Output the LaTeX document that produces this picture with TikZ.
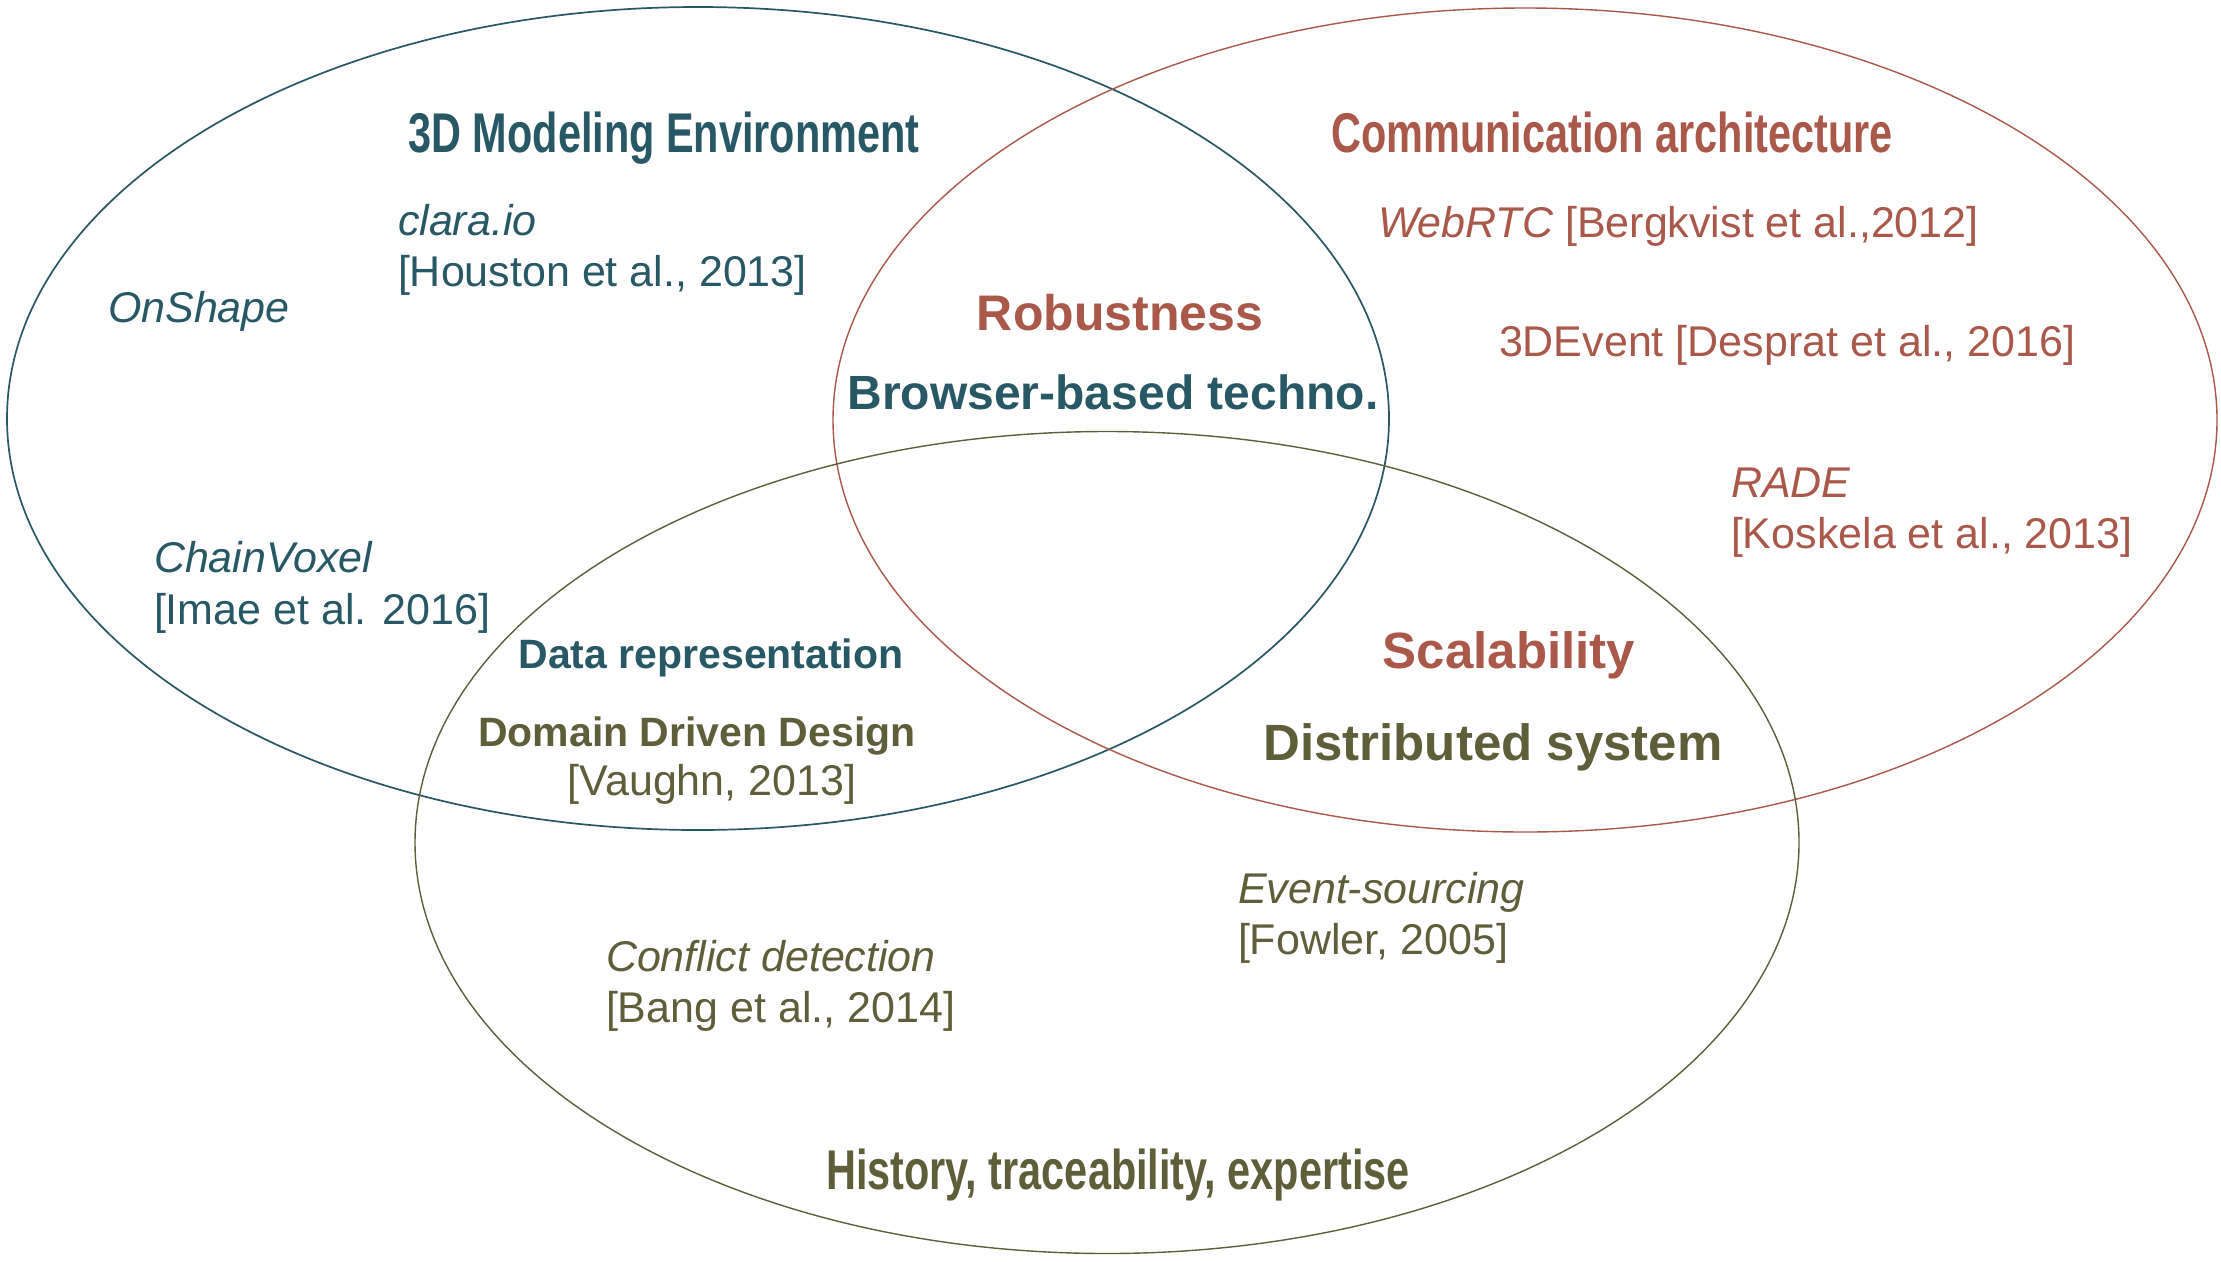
\documentclass[tikz,border=0pt]{standalone}
\usepackage{fontspec}
\usepackage{graphicx}
\setmainfont{Liberation Sans}
\definecolor{cblue}{RGB}{40,87,102}
\definecolor{cred}{RGB}{169,88,74}
\definecolor{colive}{RGB}{94,94,58}
% condensed bold heading
\newcommand{\condhead}[1]{\scalebox{0.74}[1]{\fontsize{56}{60}\selectfont\bfseries #1}}
\begin{document}
\begin{tikzpicture}[x=1pt,y=-1pt,
  every node/.style={inner sep=0pt,outer sep=0pt},
  reg/.style={font=\fontsize{43}{50}\selectfont,anchor=base west},
  regc/.style={font=\fontsize{43}{50}\selectfont,anchor=base},
  bigb/.style={font=\fontsize{50}{56}\selectfont\bfseries,anchor=base},
  midb/.style={font=\fontsize{41}{48}\selectfont\bfseries,anchor=base},
  head/.style={anchor=base},
  ring/.style={line width=1.7pt}]
\useasboundingbox (0,0) rectangle (2221,1261);
\fill[white] (0,0) rectangle (2221,1261);

% the three overlapping sets
\draw[ring,cblue] (698,418.5) ellipse [x radius=691,y radius=411.5];
\draw[ring,cred,line width=1.4pt] (1525,420) ellipse [x radius=692,y radius=412];
\draw[ring,colive,line width=1.4pt] (1107,842.5) ellipse [x radius=692,y radius=411];

% 3D modeling environment
\node[head,text=cblue] (hmod) at (664,152) {\condhead{3D Modeling Environment}};
\node[reg,text=cblue] (clara) at (398,235) {\itshape clara.io};
\node[reg,text=cblue] (houston) at (398,286) {[Houston et al., 2013]};
\node[reg,text=cblue] (onshape) at (108,322) {\itshape OnShape};
\node[reg,text=cblue] (chain) at (154,572) {\itshape ChainVoxel};
\node[reg,text=cblue] (imae) at (154,624) {[Imae et al. 2016]};

% communication architecture
\node[head,text=cred] (hcom) at (1612,152) {\condhead{Communication architecture}};
\node[reg,text=cred] (webrtc) at (1378,237) {\itshape WebRTC\upshape{} [Bergkvist et al.,2012]};
\node[reg,text=cred] (event3d) at (1499,356) {3DEvent [Desprat et al., 2016]};
\node[reg,text=cred] (rade) at (1731,497) {\itshape RADE};
\node[reg,text=cred] (koskela) at (1731,548) {[Koskela et al., 2013]};

% intersections
\node[bigb,text=cred] (robust) at (1120,330) {Robustness};
\node[bigb,text=cblue,font=\fontsize{48}{54}\selectfont\bfseries] (browser) at (1113,409) {Browser-based techno.};
\node[midb,text=cblue] (datarep) at (711,668) {Data representation};
\node[midb,text=colive] (ddd) at (697,746) {Domain Driven Design};
\node[regc,text=colive] (vaughn) at (712,795) {[Vaughn, 2013]};
\node[bigb,text=cred,font=\fontsize{51}{56}\selectfont\bfseries] (scal) at (1509,668) {Scalability};
\node[bigb,text=colive,font=\fontsize{51}{56}\selectfont\bfseries] (distrib) at (1493,760) {Distributed system};

% history, traceability, expertise
\node[reg,text=colive] (evsrc) at (1238,903) {\itshape Event-sourcing};
\node[reg,text=colive] (fowler) at (1238,954) {[Fowler, 2005]};
\node[reg,text=colive] (conflict) at (606,971) {\itshape Conflict detection};
\node[reg,text=colive] (bang) at (606,1022) {[Bang et al., 2014]};
\node[head,text=colive] (hhist) at (1118,1189) {\condhead{History, traceability, expertise}};
\end{tikzpicture}
\end{document}
